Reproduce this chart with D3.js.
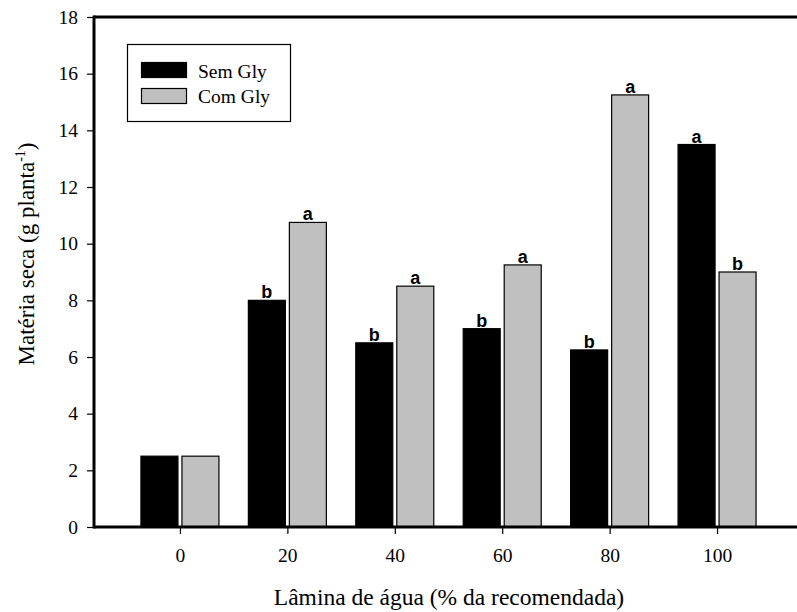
<!DOCTYPE html>
<html>
<head>
<meta charset="utf-8">
<script src="https://cdn.jsdelivr.net/npm/d3@7"></script>
<style>
	body { margin: 0; background: #fff; }
	svg { display: block; }
</style>
</head>
<body>
<div id="viz-container"></div>
<script>
var categories = [0, 20, 40, 60, 80, 100];
var semGly = [2.5, 8, 6.5, 7, 6.25, 13.5];
var comGly = [2.5, 10.75, 8.5, 9.25, 15.25, 9];
var semLetters = ['', 'b', 'b', 'b', 'b', 'a'];
var comLetters = ['', 'a', 'a', 'a', 'a', 'b'];
var yTicks = [0, 2, 4, 6, 8, 10, 12, 14, 16, 18];
var seriesNames = ['Sem Gly', 'Com Gly'];

var width = 797, height = 612;
var serif = '"Liberation Serif", "Times New Roman", Times, serif';

var x = d3.scaleLinear().domain([-16, 116]).range([94, 803]);
var y = d3.scaleLinear().domain([0, 18]).range([527, 17]);

var svg = d3.select('#viz-container')
	.append('svg')
	.attr('width', width)
	.attr('height', height);

var series = [
	{name: seriesNames[0], values: semGly, letters: semLetters, fill: '#000000', off: [-39, -2]},
	{name: seriesNames[1], values: comGly, letters: comLetters, fill: '#c0c0c0', off: [2, 39]}
];

// bars
series.forEach(function (s) {
	var g = svg.append('g');
	g.selectAll('rect')
		.data(s.values)
		.enter()
		.append('rect')
		.attr('x', function (d, i) { return x(categories[i]) + s.off[0]; })
		.attr('width', s.off[1] - s.off[0])
		.attr('y', function (d) { return y(d); })
		.attr('height', function (d) { return y(0) - y(d); })
		.attr('fill', s.fill)
		.attr('stroke', '#000')
		.attr('stroke-width', 1.2);

	g.selectAll('text')
		.data(s.values)
		.enter()
		.append('text')
		.attr('x', function (d, i) { return x(categories[i]) + (s.off[0] + s.off[1]) / 2; })
		.attr('y', function (d) { return y(d) - 2; })
		.attr('text-anchor', 'middle')
		.style('font-family', '"Liberation Sans", Arial, sans-serif')
		.style('font-weight', 'bold')
		.style('font-size', '18px')
		.text(function (d, i) { return s.letters[i]; });
});

// axes
var yAxis = d3.axisLeft(y).tickValues(yTicks).tickSize(7).tickPadding(9);
var gy = svg.append('g').attr('transform', 'translate(' + x(-16) + ',0)').call(yAxis);
gy.select('.domain').remove();
gy.selectAll('.tick line').attr('stroke-width', 1.2);
gy.selectAll('text').style('font-family', serif).style('font-size', '19.5px').attr('fill', '#000');

var xAxis = d3.axisBottom(x).tickValues(categories).tickSize(7).tickPadding(14);
var gx = svg.append('g').attr('transform', 'translate(0,' + y(0) + ')').call(xAxis);
gx.select('.domain').remove();
gx.selectAll('.tick line').attr('stroke-width', 1.2);
gx.selectAll('text').style('font-family', serif).style('font-size', '19.5px').attr('fill', '#000');

// frame
svg.append('line')
	.attr('x1', x(-16)).attr('x2', x(116))
	.attr('y1', y(18)).attr('y2', y(18))
	.attr('stroke', '#000').attr('stroke-width', 3);
svg.append('line')
	.attr('x1', x(-16)).attr('x2', x(-16))
	.attr('y1', y(18) - 1.5).attr('y2', y(0) + 1.5)
	.attr('stroke', '#000').attr('stroke-width', 3);
svg.append('line')
	.attr('x1', x(-16)).attr('x2', x(116))
	.attr('y1', y(0)).attr('y2', y(0))
	.attr('stroke', '#000').attr('stroke-width', 3);

// legend
var legend = svg.append('g');
legend.append('rect')
	.attr('x', 127.5).attr('y', 44.5)
	.attr('width', 163).attr('height', 77)
	.attr('fill', '#fff').attr('stroke', '#000').attr('stroke-width', 1.2);
legend.selectAll('rect.sw')
	.data(series)
	.enter()
	.append('rect')
	.attr('class', 'sw')
	.attr('x', 141.5)
	.attr('y', function (d, i) { return 62.5 + i * 26; })
	.attr('width', 45).attr('height', 15)
	.attr('fill', function (d) { return d.fill; })
	.attr('stroke', '#000').attr('stroke-width', 1.2);
legend.selectAll('text')
	.data(series)
	.enter()
	.append('text')
	.attr('x', 198)
	.attr('y', function (d, i) { return 77.5 + i * 25; })
	.style('font-family', serif)
	.style('font-size', '19.5px')
	.text(function (d) { return d.name; });

// axis titles
svg.append('text')
	.attr('x', 449)
	.attr('y', 605)
	.attr('text-anchor', 'middle')
	.style('font-family', serif)
	.style('font-size', '23.5px')
	.text('Lâmina de água (% da recomendada)');

var yt = svg.append('text')
	.attr('transform', 'translate(34,254) rotate(-90)')
	.attr('text-anchor', 'middle')
	.style('font-family', serif)
	.style('font-size', '23px');
yt.append('tspan').text('Matéria seca (g planta');
yt.append('tspan').attr('dy', -9).style('font-size', '14px').text('-1');
yt.append('tspan').attr('dy', 9).text(')');
</script>
</body>
</html>
